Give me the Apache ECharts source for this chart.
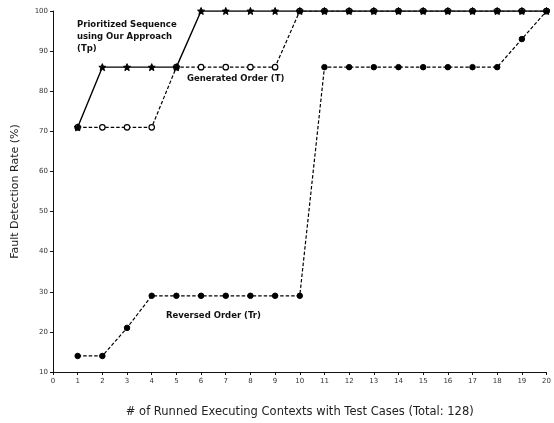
<!DOCTYPE html>
<html><head><meta charset="utf-8">
<script src="https://cdn.jsdelivr.net/npm/echarts@6/dist/echarts.min.js"></script>
<style>html,body{margin:0;padding:0;background:#fff}#c{width:554px;height:423px}</style>
</head><body><div id="c"></div>
<script>
const xs = [1,2,3,4,5,6,7,8,9,10,11,12,13,14,15,16,17,18,19,20];
const tp = [71,86,86,86,86,100,100,100,100,100,100,100,100,100,100,100,100,100,100,100];
const tGen = [71,71,71,71,86,86,86,86,86,100,100,100,100,100,100,100,100,100,100,100];
const tr = [14,14,21,29,29,29,29,29,29,29,86,86,86,86,86,86,86,86,93,100];
const yTicks = [10,20,30,40,50,60,70,80,90,100];
const xTicks = [0,1,2,3,4,5,6,7,8,9,10,11,12,13,14,15,16,17,18,19,20];

const pair = (ys) => xs.map((x,i)=>[x, ys[i]]);
const star = 'path://M0,-10 L2.6,-3.6 L9.5,-3.1 L4.2,1.4 L5.9,8.1 L0,4.5 L-5.9,8.1 L-4.2,1.4 L-9.5,-3.1 L-2.6,-3.6 Z';
const FONT = 'DejaVu Sans';

const chart = echarts.init(document.getElementById('c'));
chart.setOption({
  animation:false,
  backgroundColor:'#fff',
  grid:{left:53,right:3,top:11,bottom:45,containLabel:false},
  xAxis:{type:'value',min:0,max:20,interval:1,
    name:'# of Runned Executing Contexts with Test Cases (Total: 128)',
    nameLocation:'middle',nameGap:34,
    nameTextStyle:{fontFamily:FONT,fontSize:11.5,color:'#222'},
    axisLine:{lineStyle:{color:'#111',width:1}},
    axisTick:{show:true,length:3,lineStyle:{color:'#111'}},
    axisLabel:{fontFamily:FONT,fontSize:7,color:'#333',margin:6,
      formatter:v=>xTicks.includes(v)?String(v):''},
    splitLine:{show:false}},
  yAxis:{type:'value',min:10,max:100,interval:10,
    name:'Fault Detection Rate (%)',nameLocation:'middle',nameGap:32,
    nameTextStyle:{fontFamily:FONT,fontSize:11,color:'#222'},
    axisLine:{show:true,lineStyle:{color:'#111',width:1}},
    axisTick:{show:true,length:3,lineStyle:{color:'#111'}},
    axisLabel:{fontFamily:FONT,fontSize:7,color:'#333',margin:5,
      formatter:v=>yTicks.includes(v)?String(v):''},
    splitLine:{show:false}},
  series:[
    {name:'Tr',type:'line',data:pair(tr),symbol:'circle',symbolSize:5.5,
     lineStyle:{color:'#000',width:1.2,type:[3.5,2]},
     itemStyle:{color:'#000',borderColor:'#000'},z:2},
    {name:'T',type:'line',data:pair(tGen),symbol:'circle',symbolSize:5.5,
     lineStyle:{color:'#000',width:1.2,type:[3.5,2]},
     itemStyle:{color:'#fff',borderColor:'#000',borderWidth:1.2},z:3},
    {name:'Tp',type:'line',data:pair(tp),symbol:star,symbolSize:7,
     lineStyle:{color:'#000',width:1.4,type:'solid'},
     itemStyle:{color:'#000',borderColor:'#000'},z:4}
  ],
  graphic:[
    {type:'text',left:77,top:19,style:{text:'Prioritized Sequence\nusing Our Approach\n(Tp)',
      fontFamily:FONT,fontSize:8.5,fontWeight:'bold',fill:'#111',lineHeight:12}},
    {type:'text',left:187,top:74,style:{text:'Generated Order (T)',
      fontFamily:FONT,fontSize:8.5,fontWeight:'bold',fill:'#111'}},
    {type:'text',left:166,top:311,style:{text:'Reversed Order (Tr)',
      fontFamily:FONT,fontSize:8.5,fontWeight:'bold',fill:'#111'}}
  ]
});
</script></body></html>
